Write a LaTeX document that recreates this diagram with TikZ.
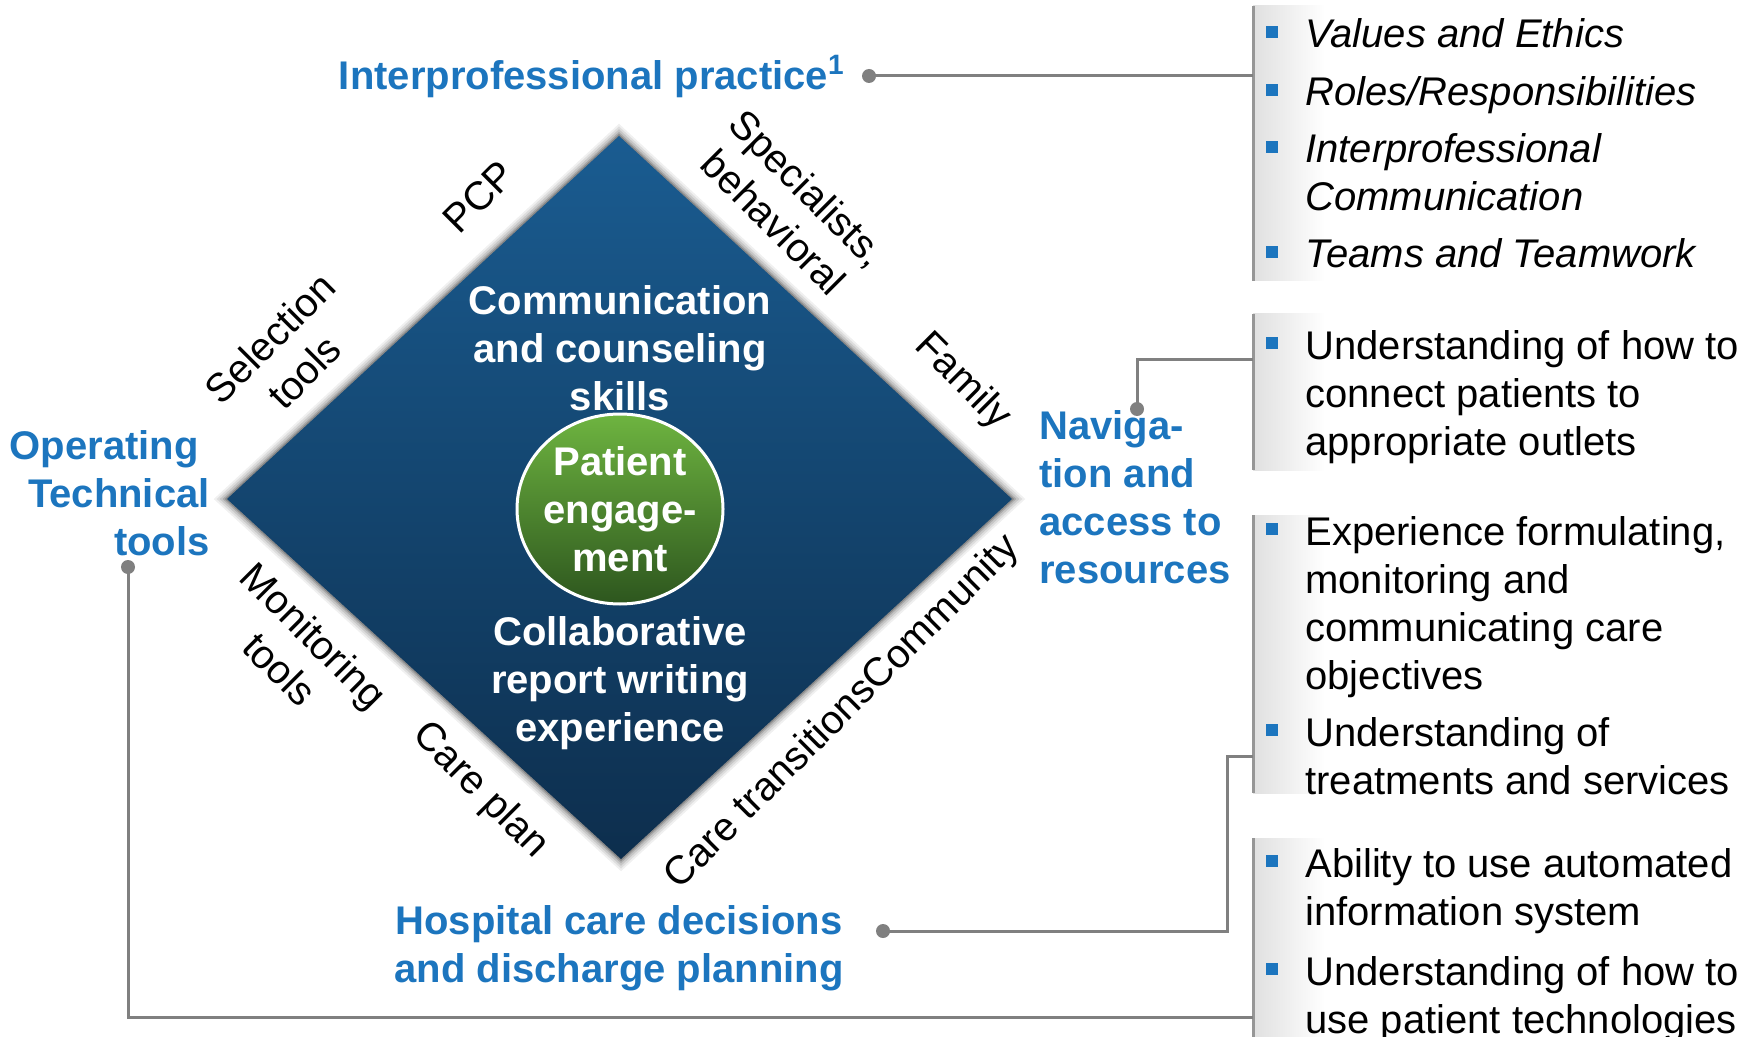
\documentclass[tikz,border=0pt]{standalone}
\usepackage{fontspec}
\setmainfont{Liberation Sans}
\usetikzlibrary{calc,positioning,shapes.geometric}
\definecolor{hdblue}{RGB}{28,117,190}
\definecolor{dmtop}{RGB}{26,92,145}
\definecolor{dmbot}{RGB}{13,46,77}
\definecolor{pegtop}{RGB}{110,180,64}
\definecolor{pegbot}{RGB}{45,86,30}
\definecolor{linegray}{RGB}{128,128,128}
\definecolor{bargray}{RGB}{150,150,150}
\definecolor{panelgray}{RGB}{224,224,224}
\newcommand{\txtsize}{\fontsize{20}{24}\selectfont}

\begin{document}
\begin{tikzpicture}[x=0.5pt, y=-0.5pt,
  head/.style={font=\txtsize\bfseries, text=hdblue, inner sep=0pt},
  inner/.style={font=\txtsize\bfseries, text=white, align=center, inner sep=0pt, anchor=base},
  edgelbl/.style={font=\txtsize, align=center, inner sep=0pt},
  item/.style={font=\txtsize, align=left, anchor=base west, inner sep=0pt},
  itemit/.style={item, font=\txtsize\itshape},
  bul/.style={fill=hdblue, minimum size=6pt, inner sep=0pt},
  dot/.style={circle, fill=linegray, minimum size=7pt, inner sep=0pt},
  conn/.style={draw=linegray, line width=1.5pt},
  bar/.style={draw=bargray, line width=1.5pt},
  panel/.style={left color=panelgray, right color=white, draw=none}
]
\useasboundingbox (0,0) rectangle (1754,1037);

\coordinate (dt) at (619,136);
\coordinate (dr) at (1012,499);
\coordinate (db) at (621,859);
\coordinate (dl) at (227,499);
\foreach \w/\o in {9/0.06,7/0.08,5/0.1,3/0.14,1.5/0.2}
  \draw[line width=\w pt, black, opacity=\o, line join=miter, miter limit=10] (dt) -- (dr) -- (db) -- (dl) -- cycle;
\path[top color=dmtop, bottom color=dmbot] (dt) -- (dr) -- (db) -- (dl) -- cycle;

\node[inner] (comm) at (620,410) {Communication\\and counseling\\skills};
\node[ellipse, minimum width=103pt, minimum height=95pt, draw=white, line width=1.5pt,
  top color=pegtop, bottom color=pegbot, inner sep=0pt] (peg) at (620,509) {};
\node[font=\txtsize\bfseries, text=white, align=center, inner sep=0pt] (pegtxt) at (peg.center) {Patient\\engage-\\ment};
\node[inner] (collab) at (620,741) {Collaborative\\report writing\\experience};

\node[edgelbl, rotate=45] (pcp) at (479,197) {PCP};
\node[edgelbl, rotate=45] (sel) at (287,355) {Selection\\tools};
\node[edgelbl, rotate=-45] (spec) at (791,205) {Specialists,\\behavioral};
\node[edgelbl, rotate=-45] (fam) at (962,382) {Family};
\node[edgelbl, rotate=-45] (mon) at (297,652) {Monitoring\\tools};
\node[edgelbl, rotate=-45] (cplan) at (480,791) {Care plan};
\node[edgelbl, rotate=45] (ctrans) at (843,713) {Care transitionsCommunity};

\node[head, anchor=base east] (ipp) at (845,90) {Interprofessional practice\textsuperscript{1}};
\node[head, align=right, anchor=base east] (otool) at (210,555) {Operating\hspace*{5.5pt}\\Technical\\tools};
\node[head, align=left, anchor=base west] (nav) at (1039,583) {Naviga-\\tion and\\access to\\resources};
\node[head, align=center, anchor=base] (hosp) at (619,982) {Hospital care decisions\\and discharge planning};

\coordinate (p1t) at (1253,6);   \coordinate (p1b) at (1253,281);
\coordinate (p2t) at (1253,314); \coordinate (p2b) at (1253,470);
\coordinate (p3t) at (1253,515); \coordinate (p3b) at (1253,793);
\coordinate (p4t) at (1253,838); \coordinate (p4b) at (1253,1040);
\foreach \p in {p1,p2,p3,p4} {
  \path[panel] (\p t) rectangle ($(\p b)+(72,0)$);
  \draw[bar] (\p t) -- (\p b);
}

\node[dot] (ipdot) at (869,76) {};
\node[dot] (otdot) at (128,567) {};
\node[dot] (navdot) at (1137,409) {};
\node[dot] (hospdot) at (883,931) {};
\coordinate (j2) at (1253,359);
\coordinate (k3) at (1227,756);
\coordinate (j3) at (1253,756);
\coordinate (j4) at (1253,1017);
\draw[conn] (ipdot.center) -- (ipdot.center -| p1t);
\draw[conn] (navdot.center) |- (j2);
\draw[conn] (hospdot.center) -| (k3) -- (j3);
\draw[conn] (otdot.center) |- (j4);

\node[itemit] (v1) at (1305,48) {Values and Ethics};
\node[itemit] (v2) at (1305,106) {Roles/Responsibilities};
\node[itemit] (v3) at (1305,211) {Interprofessional\\Communication};
\node[itemit] (v4) at (1305,268) {Teams and Teamwork};
\node[item] (n1) at (1305,455) {Understanding of how to\\connect patients to\\appropriate outlets};
\node[item] (h1) at (1305,689) {Experience formulating,\\monitoring and\\communicating care\\objectives};
\node[item] (h2) at (1305,794) {Understanding of\\treatments and services};
\node[item] (t1) at (1305,925) {Ability to use automated\\information system};
\node[item] (t2) at (1305,1033) {Understanding of how to\\use patient technologies};
\foreach \n in {v1,v2,v3,v4,n1,h1,h2,t1,t2}
  \node[bul] (b-\n) at ($(\n.north west)+(-33,13)$) {};

\end{tikzpicture}
\end{document}
